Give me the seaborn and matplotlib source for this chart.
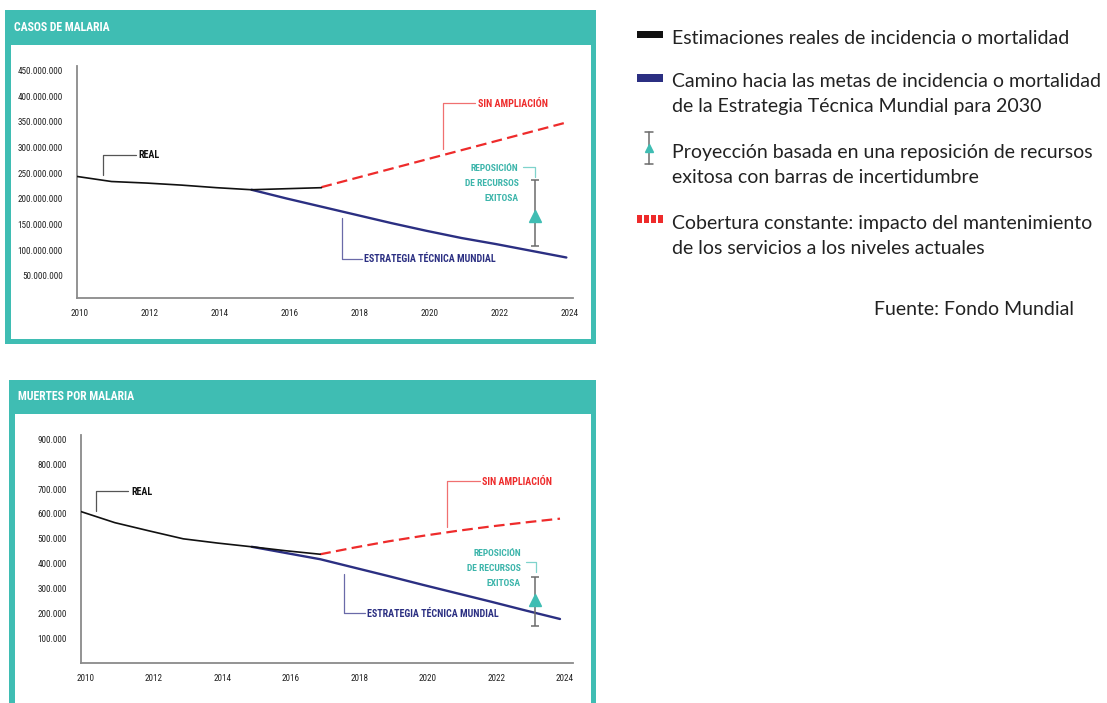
import matplotlib
matplotlib.use("Agg")
import numpy as np
import pandas as pd
import seaborn as sns
import matplotlib.pyplot as plt
from matplotlib import font_manager
from matplotlib.patches import Rectangle
from matplotlib.ticker import FuncFormatter
from matplotlib.transforms import ScaledTranslation

# ---------------- data ----------------
years_real = [2010, 2011, 2012, 2013, 2014, 2015, 2016, 2017]
years_gts = [2015, 2016, 2017, 2018, 2019, 2020, 2021, 2022, 2023, 2024]
years_noscale = [2017, 2018, 2019, 2020, 2021, 2022, 2023, 2024]

cases_real = [244e6, 234e6, 231e6, 227e6, 222e6, 218e6, 220e6, 222e6]
cases_gts = [218e6, 201e6, 185e6, 169e6, 153e6, 138e6, 124e6, 112e6, 99e6, 86e6]
cases_noscale = [223e6, 241e6, 259e6, 277e6, 295e6, 313e6, 331e6, 349e6]
cases_repl_year = 2023.09
cases_repl = [109e6, 167e6, 236e6]  # low, central, high

deaths_real = [610e3, 565e3, 532e3, 500e3, 483e3, 468e3, 452e3, 438e3]
deaths_gts = [468e3, 443e3, 418e3, 384e3, 350e3, 315e3, 281e3, 247e3, 212e3, 178e3]
deaths_noscale = [438e3, 465e3, 490e3, 512e3, 532e3, 550e3, 566e3, 581e3]
deaths_repl_year = 2023.28
deaths_repl = [148e3, 255e3, 347e3]

cases_ticks = [50e6 * i for i in range(1, 10)]
deaths_ticks = [100e3 * i for i in range(1, 10)]
year_ticks = list(range(2010, 2025, 2))

title_cases = "CASOS DE MALARIA"
title_deaths = "MUERTES POR MALARIA"
lbl_real = "REAL"
lbl_noscale = "SIN AMPLIACIÓN"
lbl_gts = "ESTRATEGIA TÉCNICA MUNDIAL"
lbl_repl = ["REPOSICIÓN", "DE RECURSOS", "EXITOSA"]
legend_items = [
    ["Estimaciones reales de incidencia o mortalidad"],
    ["Camino hacia las metas de incidencia o mortalidad",
     "de la Estrategia Técnica Mundial para 2030"],
    ["Proyección basada en una reposición de recursos",
     "exitosa con barras de incertidumbre"],
    ["Cobertura constante: impacto del mantenimiento",
     "de los servicios a los niveles actuales"],
]
source = "Fuente: Fondo Mundial"

# ---------------- style ----------------
TEAL = "#3fbdb3"
TEAL_TXT = "#3db5ab"
NAVY = "#2b2f82"
RED = "#ee2b2b"
BLACK = "#111111"
AXIS = "#8a8a8a"

sns.set_theme(style="white")
avail = {f.name for f in font_manager.fontManager.ttflist}
COND_FAM = None
for cand in ("Liberation Sans Narrow", "Roboto Condensed", "Open Sans Condensed",
             "Noto Sans Condensed"):
    if cand in avail:
        COND_FAM = cand
        break
if COND_FAM is None:
    COND_FAM = "Roboto" if "Roboto" in avail else "DejaVu Sans"
CF = [COND_FAM, "DejaVu Sans"]
LEG_FONT = "Lato" if "Lato" in avail else "DejaVu Sans"
plt.rcParams["font.family"] = [LEG_FONT, "DejaVu Sans"]

W, H = 1107, 703
fig = plt.figure(figsize=(W / 100, H / 100), dpi=100)
fig.patch.set_facecolor("white")


def fx(x):
    return x / W


def fy(y):
    return 1 - y / H


def rect_px(x0, y0, x1, y1, **kw):
    r = Rectangle((fx(x0), fy(y1)), fx(x1) - fx(x0), fy(y0) - fy(y1),
                  transform=fig.transFigure, **kw)
    fig.add_artist(r)
    return r


def dot_fmt(v, pos):
    return f"{int(round(v)):,}".replace(",", ".")


# panel frames
rect_px(4.6, 10, 596, 344, facecolor=TEAL, edgecolor="none", zorder=0)
rect_px(10.7, 45, 590.5, 339, facecolor="white", edgecolor="none", zorder=0.1)
rect_px(9, 380, 596, 710, facecolor=TEAL, edgecolor="none", zorder=0)
rect_px(15, 414, 590.5, 710, facecolor="white", edgecolor="none", zorder=0.1)

fig.text(fx(14.5), fy(27.5), title_cases, color="white", fontsize=8.5,
         fontweight="bold", va="center", ha="left", family=CF, zorder=3)
fig.text(fx(18.5), fy(397), title_deaths, color="white", fontsize=8.5,
         fontweight="bold", va="center", ha="left", family=CF, zorder=3)


def make_axes(x0, x1, ytop, ybot):
    ax = fig.add_axes([fx(x0), fy(ybot), fx(x1) - fx(x0), fy(ytop) - fy(ybot)])
    ax.set_zorder(2)
    ax.set_facecolor("none")
    sns.despine(ax=ax)
    for s in ("left", "bottom"):
        ax.spines[s].set_color(AXIS)
        ax.spines[s].set_linewidth(1.3)
    ax.tick_params(axis="both", length=0, colors="#222222", labelsize=6.6)
    ax.tick_params(axis="y", pad=10)
    ax.tick_params(axis="x", pad=8)
    return ax


def draw_panel(ax, real, gts, noscale, repl_year, repl, ticks, ylim, xlim, ann, xshift):
    df_r = pd.DataFrame({"year": years_real, "v": real})
    df_g = pd.DataFrame({"year": years_gts, "v": gts})
    df_n = pd.DataFrame({"year": years_noscale, "v": noscale})
    sns.lineplot(data=df_g, x="year", y="v", ax=ax, color=NAVY, lw=1.7, zorder=3)
    sns.lineplot(data=df_r, x="year", y="v", ax=ax, color=BLACK, lw=1.2, zorder=4)
    sns.lineplot(data=df_n, x="year", y="v", ax=ax, color=RED, lw=1.6, zorder=3)
    ax.lines[-1].set_dashes((4.8, 2.4))
    lo, mid, hi = repl
    ax.errorbar([repl_year], [mid], yerr=[[mid - lo], [hi - mid]], fmt="none",
                ecolor="#6b6b6b", elinewidth=1.1, capsize=3.2, capthick=1.1, zorder=5)
    ax.plot([repl_year], [mid], marker="^", ms=9, color=TEAL, mec=TEAL, zorder=6)
    ax.set_xlim(*xlim)
    ax.set_ylim(*ylim)
    ax.set_yticks(ticks)
    ax.set_xticks(year_ticks)
    ax.yaxis.set_major_formatter(FuncFormatter(dot_fmt))
    off = ScaledTranslation(xshift / 100, 0, fig.dpi_scale_trans)
    for lab in ax.get_xticklabels():
        lab.set_fontfamily(CF)
        lab.set_transform(lab.get_transform() + off)
    for lab in ax.get_yticklabels():
        lab.set_fontfamily(CF)
    ax.set_xlabel("")
    ax.set_ylabel("")

    def leader(pts, color, text, tpos, tcolor):
        xs, ys = zip(*pts)
        ax.plot(xs, ys, color=color, lw=0.9, zorder=2)
        ax.text(tpos[0], tpos[1], text, color=tcolor, fontsize=7.2,
                fontweight="bold", ha="left", va="center", family=CF)

    leader(ann["real"][0], "#555555", lbl_real, ann["real"][1], BLACK)
    leader(ann["noscale"][0], "#f07070", lbl_noscale, ann["noscale"][1], RED)
    leader(ann["gts"][0], "#6a6aa8", lbl_gts, ann["gts"][1], NAVY)
    rx, rys = ann["repl"][1]
    for t, yy in zip(lbl_repl, rys):
        ax.text(rx, yy, t, color=TEAL_TXT, fontsize=6.8, fontweight="bold",
                ha="right", va="center", family=CF)
    xs, ys = zip(*ann["repl"][0])
    ax.plot(xs, ys, color="#7fd3cc", lw=0.9, zorder=2)


ax1 = make_axes(76.5, 573, 66, 297.7)
draw_panel(ax1, cases_real, cases_gts, cases_noscale, cases_repl_year, cases_repl,
           cases_ticks, (7.7e6, 459e6), (2010, 2024.19), {
               "real": ([(2010.75, 247e6), (2010.75, 286e6), (2011.69, 286e6)],
                        (2011.78, 286e6)),
               "noscale": ([(2020.47, 297e6), (2020.47, 386e6), (2021.4, 386e6)],
                           (2021.47, 386e6)),
               "gts": ([(2017.58, 162e6), (2017.58, 82.5e6), (2018.15, 82.5e6)],
                       (2018.22, 82.5e6)),
               "repl": ([(2022.77, 263e6), (2023.09, 263e6), (2023.09, 243.5e6)],
                        (2022.63, [260e6, 230.5e6, 201e6])),
           }, 3)

ax2 = make_axes(80.5, 573, 435, 663.3)
draw_panel(ax2, deaths_real, deaths_gts, deaths_noscale, deaths_repl_year, deaths_repl,
           deaths_ticks, (0, 917e3), (2010, 2024.38), {
               "real": ([(2010.45, 613e3), (2010.45, 694e3), (2011.39, 694e3)],
                        (2011.5, 690e3)),
               "noscale": ([(2020.7, 549e3), (2020.7, 733e3), (2021.66, 733e3)],
                           (2021.72, 730e3)),
               "gts": ([(2017.69, 359e3), (2017.69, 202e3), (2018.3, 202e3)],
                       (2018.37, 200e3)),
               "repl": ([(2023.0, 405e3), (2023.31, 405e3), (2023.31, 365e3)],
                        (2022.86, [441e3, 380e3, 320e3])),
           }, 5)

# ---------------- legend (right side) ----------------
LX = 671.7
LFS = 14
rect_px(636.7, 31, 663.3, 38.3, facecolor=BLACK, edgecolor="none")
rect_px(636.7, 74.3, 663.3, 81.7, facecolor=NAVY, edgecolor="none")
# error-bar icon
fig.add_artist(plt.Line2D([fx(649), fx(649)], [fy(131.7), fy(164.3)],
                          transform=fig.transFigure, color="#6b6b6b", lw=1.1))
for yy in (131.7, 164.3):
    fig.add_artist(plt.Line2D([fx(645), fx(653)], [fy(yy), fy(yy)],
                              transform=fig.transFigure, color="#6b6b6b", lw=1.1))
fig.add_artist(plt.Line2D([fx(649)], [fy(148)], transform=fig.transFigure,
                          marker="^", ms=6, color=TEAL, mec=TEAL, lw=0))
# dotted red swatch
for k in range(4):
    x0 = 636.7 + k * 7.0
    rect_px(x0, 215, x0 + 5, 223.3, facecolor=RED, edgecolor="none")

baselines = [[44.3], [87.3, 111.7], [157.7, 182.7], [229.3, 254.0]]
for lines, bls in zip(legend_items, baselines):
    for t, b in zip(lines, bls):
        fig.text(fx(LX), fy(b), t, fontsize=LFS, color="#222222",
                 ha="left", va="baseline", family=[LEG_FONT, "DejaVu Sans"])
fig.text(fx(1074), fy(315), source, fontsize=LFS, color="#222222",
         ha="right", va="baseline", family=[LEG_FONT, "DejaVu Sans"])

fig.savefig("out.png", dpi=100, facecolor="white")
